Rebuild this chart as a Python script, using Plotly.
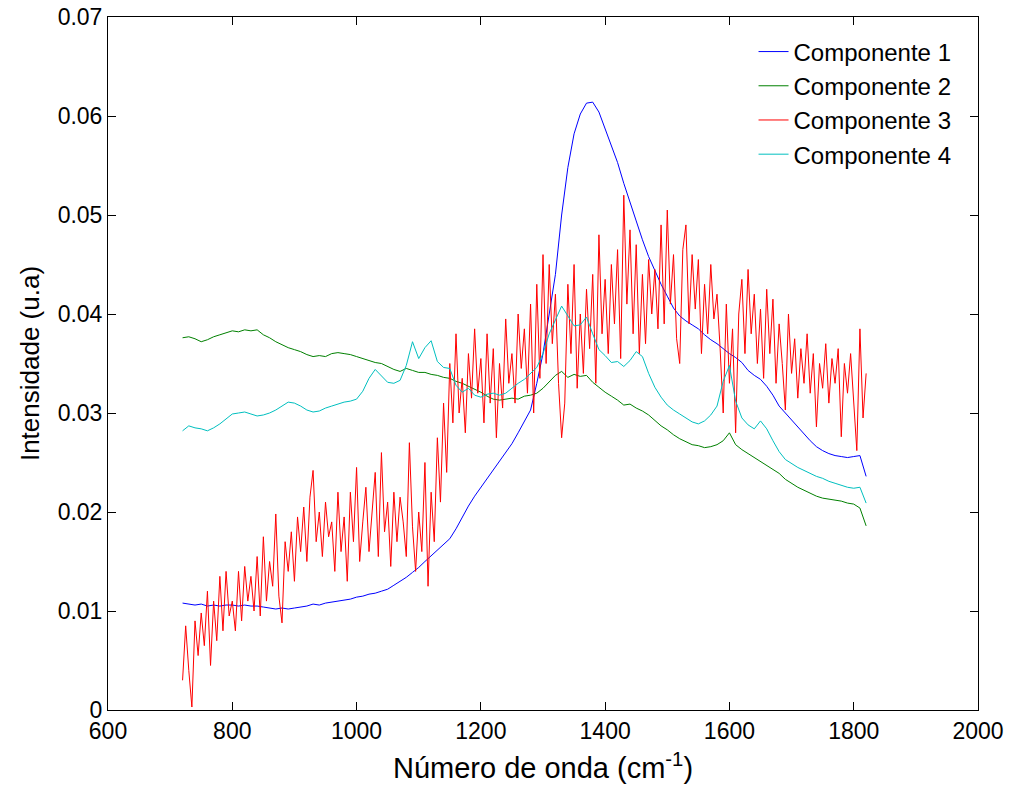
import plotly.graph_objects as go

# ---- data ----
x_smooth = list(range(720, 1821, 10))
x_red = list(range(720, 1821, 5))

comp1 = [0.0108, 0.0107, 0.0106, 0.0107, 0.0105, 0.0106, 0.0105, 0.0106, 0.0106, 0.0105,
         0.0106, 0.0105, 0.0105, 0.0104, 0.0103, 0.0102, 0.0103, 0.0102, 0.0103, 0.0104,
         0.0105, 0.0107, 0.0106, 0.0108, 0.0109, 0.0110, 0.0111, 0.0112, 0.0114, 0.0115,
         0.0117, 0.0118, 0.0120, 0.0122, 0.0126, 0.0130, 0.0134, 0.0139, 0.0144, 0.0150,
         0.0156, 0.0161, 0.0167, 0.0173, 0.0183, 0.0195, 0.0206, 0.0216, 0.0225, 0.0234,
         0.0243, 0.0251, 0.0260, 0.0269, 0.0280, 0.0292, 0.0303, 0.0330, 0.0360, 0.0400,
         0.0440, 0.0500, 0.0548, 0.0582, 0.0602, 0.0613, 0.0614, 0.0604, 0.0587, 0.0570,
         0.0553, 0.0532, 0.0512, 0.0494, 0.0475, 0.0458, 0.0444, 0.0430, 0.0418, 0.0406,
         0.0398, 0.0393, 0.0389, 0.0385, 0.0379, 0.0374, 0.0370, 0.0365, 0.0360, 0.0356,
         0.0351, 0.0343, 0.0338, 0.0334, 0.0327, 0.0318, 0.0307, 0.0300, 0.0293, 0.0285,
         0.0278, 0.0272, 0.0266, 0.0262, 0.0259, 0.0257, 0.0256, 0.0255, 0.0256, 0.0257,
         0.0236]

comp2 = [0.0376, 0.0377, 0.0375, 0.0372, 0.0374, 0.0377, 0.0379, 0.0381, 0.0383, 0.0382,
         0.0384, 0.0383, 0.0384, 0.0379, 0.0376, 0.0372, 0.0369, 0.0366, 0.0364, 0.0362,
         0.0359, 0.0357, 0.0358, 0.0357, 0.0360, 0.0361, 0.0360, 0.0359, 0.0357, 0.0355,
         0.0353, 0.0351, 0.0350, 0.0347, 0.0344, 0.0342, 0.0345, 0.0343, 0.0341, 0.0341,
         0.0339, 0.0338, 0.0336, 0.0335, 0.0332, 0.0330, 0.0327, 0.0324, 0.0321, 0.0317,
         0.0314, 0.0313, 0.0314, 0.0315, 0.0314, 0.0317, 0.0318, 0.0320, 0.0325, 0.0332,
         0.0338, 0.0342, 0.0336, 0.0339, 0.0337, 0.0338, 0.0331, 0.0326, 0.0321, 0.0317,
         0.0313, 0.0308, 0.0309, 0.0305, 0.0302, 0.0298, 0.0292, 0.0287, 0.0283, 0.0278,
         0.0274, 0.0271, 0.0268, 0.0267, 0.0265, 0.0266, 0.0268, 0.0272, 0.0280, 0.0268,
         0.0263, 0.0259, 0.0255, 0.0251, 0.0247, 0.0243, 0.0239, 0.0233, 0.0229, 0.0225,
         0.0222, 0.0219, 0.0216, 0.0214, 0.0213, 0.0212, 0.0211, 0.0209, 0.0208, 0.0204,
         0.0186]

comp4 = [0.0282, 0.0287, 0.0285, 0.0284, 0.0282, 0.0285, 0.0289, 0.0294, 0.0299, 0.0300,
         0.0301, 0.0299, 0.0297, 0.0298, 0.0300, 0.0303, 0.0307, 0.0311, 0.0310, 0.0307,
         0.0303, 0.0301, 0.0302, 0.0305, 0.0307, 0.0309, 0.0311, 0.0312, 0.0314, 0.0322,
         0.0335, 0.0344, 0.0338, 0.0331, 0.0330, 0.0333, 0.0348, 0.0372, 0.0355, 0.0366,
         0.0373, 0.0352, 0.0346, 0.0345, 0.0328, 0.0321, 0.0325, 0.0318, 0.0316, 0.0319,
         0.0320, 0.0318, 0.0320, 0.0325, 0.0330, 0.0334, 0.0340, 0.0346, 0.0360, 0.0380,
         0.0394, 0.0408, 0.0398, 0.0388, 0.0389, 0.0397, 0.0380, 0.0364, 0.0358, 0.0351,
         0.0352, 0.0347, 0.0353, 0.0362, 0.0357, 0.0340, 0.0326, 0.0316, 0.0308, 0.0303,
         0.0299, 0.0295, 0.0291, 0.0289, 0.0292, 0.0298, 0.0307, 0.0332, 0.0348, 0.0312,
         0.0295, 0.0288, 0.0284, 0.0292, 0.0284, 0.0272, 0.0261, 0.0253, 0.0249, 0.0245,
         0.0242, 0.0239, 0.0236, 0.0234, 0.0231, 0.0229, 0.0227, 0.0225, 0.0224, 0.0225,
         0.0209]

comp3 = [0.0030, 0.0085, 0.0040, 0.0003, 0.0090, 0.0055, 0.0098, 0.0065, 0.0120, 0.0045,
         0.0110, 0.0070, 0.0135, 0.0080, 0.0140, 0.0095, 0.0110, 0.0080, 0.0140, 0.0090,
         0.0145, 0.0110, 0.0135, 0.0100, 0.0155, 0.0095, 0.0175, 0.0110, 0.0150, 0.0125,
         0.0198, 0.0115, 0.0088, 0.0170, 0.0140, 0.0180, 0.0130, 0.0195, 0.0160, 0.0205,
         0.0150, 0.0215, 0.0242, 0.0170, 0.0200, 0.0155, 0.0210, 0.0175, 0.0190, 0.0140,
         0.0220, 0.0160, 0.0195, 0.0130, 0.0220, 0.0170, 0.0245, 0.0150, 0.0190, 0.0225,
         0.0160, 0.0205, 0.0240, 0.0155, 0.0260, 0.0180, 0.0210, 0.0145, 0.0220, 0.0170,
         0.0215, 0.0190, 0.0155, 0.0270, 0.0185, 0.0140, 0.0200, 0.0160, 0.0250, 0.0125,
         0.0220, 0.0170, 0.0275, 0.0210, 0.0310, 0.0240, 0.0350, 0.0290, 0.0380, 0.0300,
         0.0335, 0.0280, 0.0360, 0.0315, 0.0385, 0.0320, 0.0355, 0.0290, 0.0380, 0.0310,
         0.0365, 0.0275, 0.0350, 0.0305, 0.0395, 0.0330, 0.0360, 0.0310, 0.0400, 0.0345,
         0.0385, 0.0320, 0.0410, 0.0300, 0.0430, 0.0335, 0.0460, 0.0350, 0.0450, 0.0370,
         0.0420, 0.0330, 0.0275, 0.0310, 0.0430, 0.0360, 0.0450, 0.0325, 0.0400, 0.0340,
         0.0425, 0.0365, 0.0440, 0.0330, 0.0480, 0.0380, 0.0435, 0.0360, 0.0450, 0.0390,
         0.0465, 0.0355, 0.0520, 0.0410, 0.0485, 0.0380, 0.0470, 0.0360, 0.0440, 0.0370,
         0.0455, 0.0400, 0.0445, 0.0385, 0.0490, 0.0390, 0.0505, 0.0410, 0.0460, 0.0375,
         0.0350, 0.0465, 0.0490, 0.0390, 0.0460, 0.0405, 0.0455, 0.0360, 0.0430, 0.0380,
         0.0450, 0.0395, 0.0420, 0.0365, 0.0300, 0.0410, 0.0330, 0.0385, 0.0280, 0.0400,
         0.0435, 0.0360, 0.0445, 0.0380, 0.0420, 0.0350, 0.0405, 0.0335, 0.0425, 0.0360,
         0.0415, 0.0330, 0.0390, 0.0350, 0.0303, 0.0400, 0.0340, 0.0375, 0.0315, 0.0365,
         0.0330, 0.0380, 0.0320, 0.0360, 0.0286, 0.0350, 0.0325, 0.0370, 0.0310, 0.0355,
         0.0330, 0.0365, 0.0276, 0.0350, 0.0320, 0.0360, 0.0305, 0.0262, 0.0385, 0.0295,
         0.0340]

series = [
    ("Componente 1", x_smooth, comp1, "#0000FF"),
    ("Componente 2", x_smooth, comp2, "#008000"),
    ("Componente 3", x_red, comp3, "#FF0000"),
    ("Componente 4", x_smooth, comp4, "#00BFBF"),
]

x_ticks = [600, 800, 1000, 1200, 1400, 1600, 1800, 2000]
y_ticks = [0, 0.01, 0.02, 0.03, 0.04, 0.05, 0.06, 0.07]
y_tick_text = ["0", "0.01", "0.02", "0.03", "0.04", "0.05", "0.06", "0.07"]

FONT = "Liberation Sans, Arial, sans-serif"

fig = go.Figure()
for name, xs, ys, color in series:
    fig.add_trace(go.Scatter(x=xs, y=ys, mode="lines", name=name,
                             line=dict(color=color, width=1)))

axis_common = dict(showline=True, linecolor="black", linewidth=1, mirror="ticks",
                   ticks="inside", ticklen=8, tickcolor="black", tickwidth=1,
                   showgrid=False, zeroline=False, automargin=False,
                   tickfont=dict(family=FONT, size=23, color="black"))

fig.update_xaxes(range=[600, 2000], tickvals=x_ticks,
                 title=dict(text="Número de onda (cm<sup>-1</sup>)",
                            font=dict(family=FONT, size=29, color="black"), standoff=15),
                 **axis_common)
fig.update_yaxes(range=[0, 0.07], tickvals=y_ticks, ticktext=y_tick_text,
                 title=dict(text="Intensidade (u.a)",
                            font=dict(family=FONT, size=26, color="black"), standoff=10),
                 **axis_common)

fig.update_layout(
    width=1011, height=787,
    margin=dict(l=108, r=33, t=17, b=77),
    paper_bgcolor="white", plot_bgcolor="white",
    font=dict(family=FONT, size=23, color="black"),
    legend=dict(x=0.742, y=0.982, xanchor="left", yanchor="top",
                bgcolor="rgba(0,0,0,0)", borderwidth=0,
                font=dict(family=FONT, size=24, color="black"),
                tracegroupgap=0, itemwidth=30),
)

fig.write_html("out.html")
